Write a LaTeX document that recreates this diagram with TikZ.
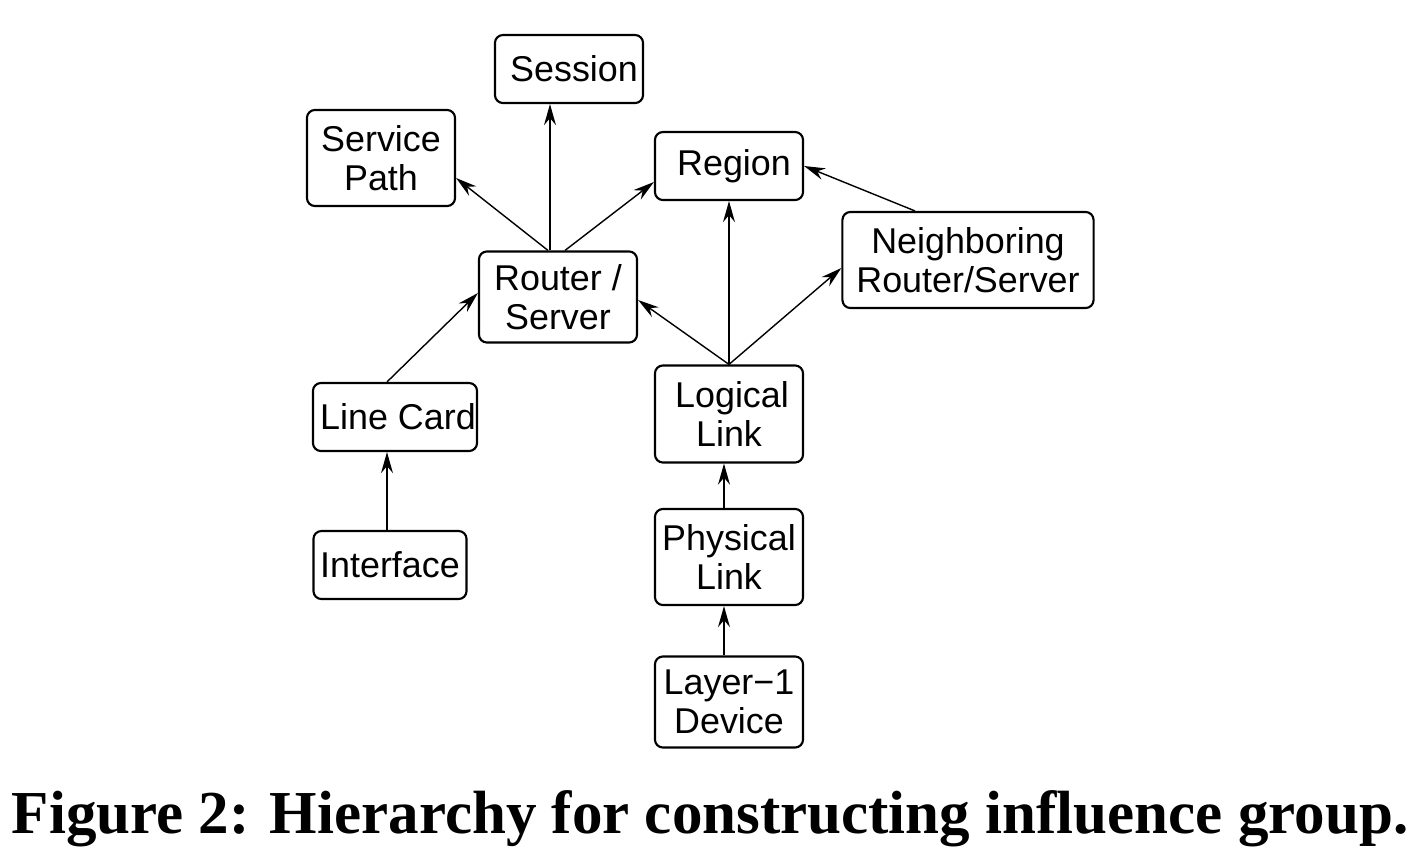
\documentclass[tikz,border=0pt]{standalone}
\usepackage{fontspec}
\setmainfont{Liberation Serif}
\setsansfont{Liberation Sans}
\usepackage{tikz}
\usetikzlibrary{arrows.meta}
\tikzset{
  treenode/.style = {align=center, inner sep=0pt, text centered,
    font=\sffamily\fontsize{10.2}{11}\selectfont},
  obj_node/.style = {treenode, rectangle, rounded corners=0.08cm, draw=black,
    line width=0.6pt, minimum width=1.48cm},% boite d'objet
  dep_arrow/.style = {-{Stealth[length=6pt, width=3.4pt, inset=2pt]},
    line width=0.4pt}% fleche de dependance
}

\begin{document}
\begin{tikzpicture}[x=0.01cm, y=-0.01cm]
      \useasboundingbox (0,0) rectangle (1426,854);
      \node [obj_node, minimum height=0.68cm] (session) at (569,69) {\hspace{0.1cm}Session};
      \node [obj_node, minimum height=0.96cm] (service) at (381,158) {Service\\Path};
      \node [obj_node, minimum height=0.68cm] (region) at (729,166) {\hspace{0.1cm}Region};
      \node [obj_node, minimum height=0.91cm, minimum width=1.58cm] (router) at (558,297) {Router /\\Server};
      \node [obj_node, minimum height=0.96cm, minimum width=2.51cm] (neigh) at (968,260) {Neighboring\\Router/Server};
      \node [obj_node, minimum height=0.68cm, minimum width=1.64cm] (linecard) at (395,417) {\hspace{0.06cm}Line Card};
      \node [obj_node, minimum height=0.97cm] (logical) at (729,414) {\hspace{0.06cm}Logical\\Link};
      \node [obj_node, minimum height=0.68cm, minimum width=1.53cm] (interface) at (390,565) {Interface};
      \node [obj_node, minimum height=0.96cm] (physical) at (729,557) {Physical\\Link};
      \node [obj_node, minimum height=0.91cm] (layer1) at (729,702) {Layer\symbol{"2212}1\\Device};

      % aretes de la hierarchie
      \draw [dep_arrow] ([xshift=-0.03cm]interface.north) -- ([xshift=-0.03cm]interface.north |- linecard.south);
      \draw [dep_arrow] ([xshift=-0.08cm]linecard.north) -- ([yshift=0.04cm]router.west);
      \draw [dep_arrow] ([xshift=-0.08cm]router.north) -- ([xshift=-0.08cm]router.north |- session.south);
      \draw [dep_arrow] ([xshift=-0.1cm]router.north) -- ([yshift=-0.2cm]service.east);
      \draw [dep_arrow] ([xshift=0.07cm]router.north) -- ([yshift=-0.16cm]region.west);
      \draw [dep_arrow] (logical.north) -- ([yshift=-0.03cm]router.east);
      \draw [dep_arrow] (logical.north) -- (region.south);
      \draw [dep_arrow] (logical.north) -- ([yshift=-0.08cm]neigh.west);
      \draw [dep_arrow] ([xshift=-0.53cm]neigh.north) -- (region.east);
      \draw [dep_arrow] ([xshift=-0.05cm]physical.north) -- ([xshift=-0.05cm]physical.north |- logical.south);
      \draw [dep_arrow] ([xshift=-0.05cm]layer1.north) -- ([xshift=-0.05cm]layer1.north |- physical.south);

      \node [font=\rmfamily\bfseries\fontsize{17.35}{20}\selectfont, anchor=base] (caption) at (710,833)
        {Figure 2: Hierarchy for constructing influence group.};
\end{tikzpicture}
\end{document}
